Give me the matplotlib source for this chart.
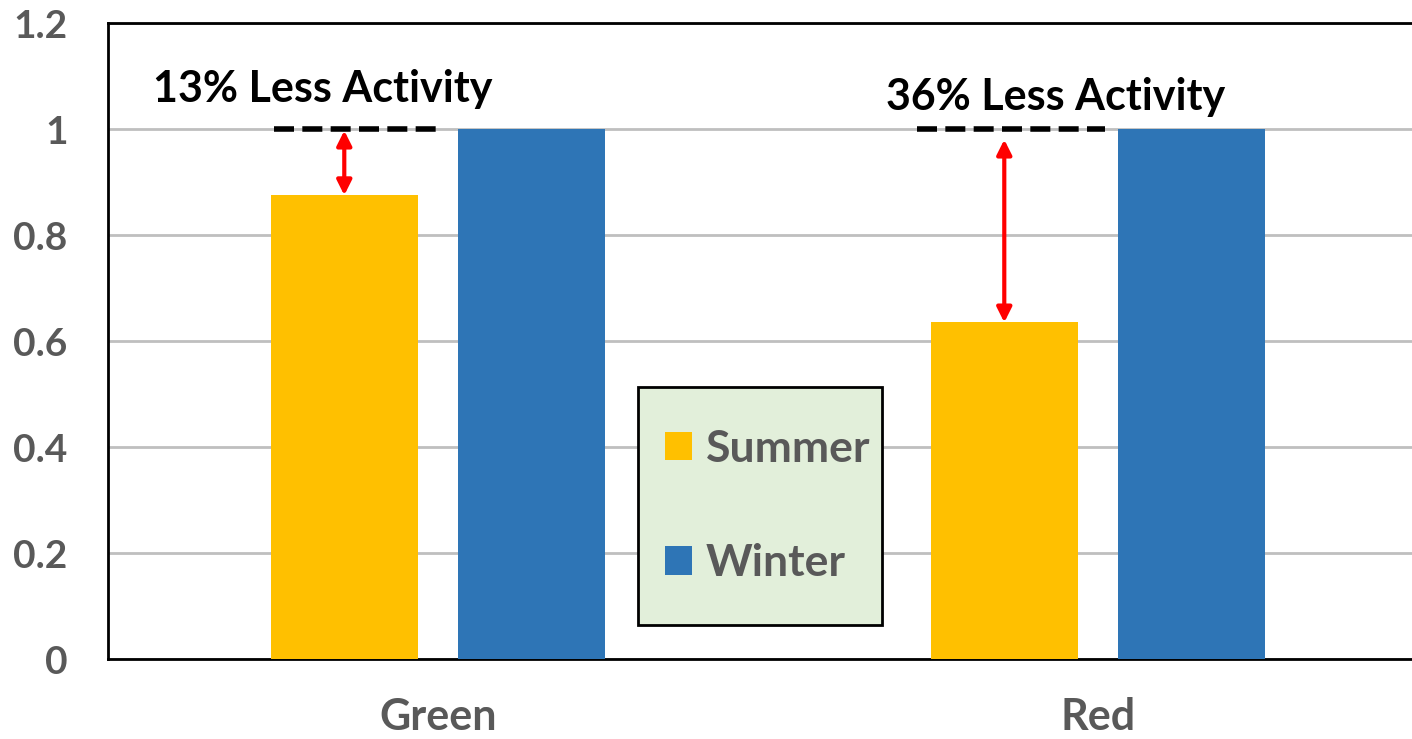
import numpy as np
import matplotlib.pyplot as plt
from matplotlib.patches import Patch, Rectangle

categories = ['Green', 'Red']
summer = [0.875, 0.635]
winter = [1.0, 1.0]
notes = ['13% Less Activity', '36% Less Activity']
yticks = [0, 0.2, 0.4, 0.6, 0.8, 1.0, 1.2]
ytick_labels = ['0', '0.2', '0.4', '0.6', '0.8', '1', '1.2']

plt.rcParams['font.family'] = ['Lato', 'DejaVu Sans']
plt.rcParams['font.weight'] = 'bold'

gray = '#595959'
c_summer = '#FFC000'
c_winter = '#2E75B6'

fig = plt.figure(figsize=(14.12, 7.39), dpi=100)
W, H = 1412, 739
# axes from x=108 to 1428 px (right part cut off), y from 23 to 659 px
ax = fig.add_axes([108 / W, 1 - 659 / H, 1320 / W, (659 - 23) / H])

x = np.arange(len(categories))
bw = 0.223
off = 0.142
ax.bar(x - off, summer, bw, color=c_summer, zorder=3)
ax.bar(x + off, winter, bw, color=c_winter, zorder=3)

ax.set_xlim(-0.5, 1.5)
ax.set_ylim(0, 1.2)
ax.set_yticks(yticks)
ax.set_yticklabels(ytick_labels)
ax.set_xticks(x)
ax.set_xticklabels(categories)
ax.tick_params(axis='y', length=0, pad=29, labelsize=28, labelcolor=gray)
ax.tick_params(axis='x', length=0, pad=27, labelsize=31, labelcolor=gray)
for lab in ax.get_yticklabels() + ax.get_xticklabels():
    lab.set_fontweight('bold')

ax.grid(axis='y', color='#BFBFBF', linewidth=2, zorder=0)
for side in ['left', 'top', 'bottom']:
    ax.spines[side].set_linewidth(2)
    ax.spines[side].set_color('black')
ax.spines['right'].set_visible(False)

# annotations: dashed reference at winter level, red double arrow to summer
dash_span = [(-0.248, 0.003), (-0.274, 0.011)]
arrow_top = [0.997, 0.98]
text_pos = [(-0.174, 1.076), (-0.065, 1.06)]
for i in range(len(categories)):
    x0, x1 = dash_span[i]
    ax.plot([x[i] + x0, x[i] + x1], [winter[i], winter[i]], color='black',
            linewidth=4, linestyle=(0, (3.6, 1.5)), zorder=5, clip_on=False)
    ax.annotate('', xy=(x[i] - off, summer[i]), xytext=(x[i] - off, arrow_top[i]),
                arrowprops=dict(arrowstyle='<|-|>', color='#FF0000', lw=3,
                                mutation_scale=22, shrinkA=0, shrinkB=0), zorder=6)
    tx, ty = text_pos[i]
    ax.text(x[i] + tx, ty, notes[i], ha='center', va='center', fontsize=31,
            fontweight='bold', color='black', zorder=6)

# legend box (drawn separately so its size matches)
fig.patches.append(Rectangle((638 / W, 1 - 625 / H), 244 / W, 238 / H,
                             transform=fig.transFigure, facecolor='#E2EFDA',
                             edgecolor='black', linewidth=2, zorder=4))
handles = [Patch(facecolor=c_summer), Patch(facecolor=c_winter)]
leg = fig.legend(handles, ['Summer', 'Winter'], loc='center left',
                 bbox_to_anchor=(665 / W, 1 - 506 / H),
                 fontsize=32, labelcolor=gray, handlelength=0.61, handleheight=0.61,
                 handletextpad=0.3, labelspacing=1.68, borderpad=0,
                 borderaxespad=0, frameon=False)
leg.set_zorder(5)
for t in leg.get_texts():
    t.set_fontweight('bold')

fig.savefig('out.png', dpi=100)
